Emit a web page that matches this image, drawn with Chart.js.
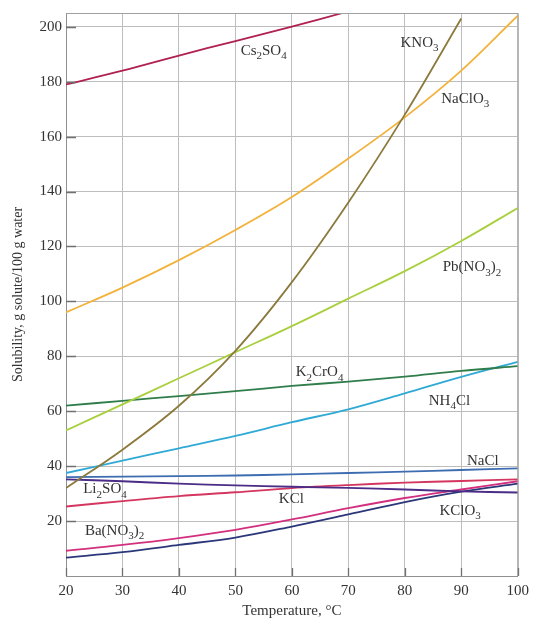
<!DOCTYPE html>
<html>
<head>
<meta charset="utf-8">
<script src="https://cdn.jsdelivr.net/npm/chart.js@4"></script>
<style>
  html, body { margin: 0; background: #fff; }
</style>
</head>
<body>
<canvas id="chart" width="535" height="619"></canvas>
<script>
const temps = [20, 30, 40, 50, 60, 70, 80, 90, 100];
const cs2so4Temps = [20, 30, 40, 50, 60, 69];
const kno3Temps = [20, 30, 40, 50, 60, 70, 80, 90];

const cs2so4 = [179, 184, 189.5, 194.8, 200, 205];
const kno3 = [32, 46, 62, 82, 107, 136, 168, 203];
const naclo3 = [96, 105, 115, 126, 138, 152, 167, 184, 204];
const pbno32 = [53, 62.5, 72, 81.5, 91, 101, 111, 122, 134];
const k2cro4 = [62, 63.8, 65.5, 67.3, 69.2, 70.8, 72.6, 74.7, 76.4];
const nh4cl = [37.5, 42, 46.5, 51, 56, 60.7, 66.5, 72.5, 78];
const nacl = [36, 36.2, 36.4, 36.6, 37, 37.5, 38, 38.6, 39.2];
const li2so4 = [35.2, 34.5, 33.6, 33, 32.5, 32.1, 31.5, 30.8, 30.4];
const kcl = [25.3, 27.3, 29.1, 30.5, 32, 33.1, 34, 34.6, 35.2];
const bano32 = [9.2, 11.3, 13.8, 16.8, 20.6, 24.7, 28.4, 31.5, 34.5];
const kclo3 = [6.7, 8.7, 11.3, 14, 18, 22.4, 26.9, 30.7, 33.6];

const yTickValues = [20, 40, 60, 80, 100, 120, 140, 160, 180, 200];

// curve labels, "_3" means subscript 3; placed at (temperature, solubility)
const labelTexts = ["Cs_2SO_4", "KNO_3", "NaClO_3", "Pb(NO_3)_2", "K_2CrO_4", "NH_4Cl", "NaCl", "Li_2SO_4", "KCl", "KClO_3", "Ba(NO_3)_2"];
const labelTemps = [55, 82.6, 90.7, 91.9, 64.9, 87.9, 93.8, 26.9, 59.9, 89.8, 28.6];
const labelValues = [191.6, 194.5, 174, 112.7, 74.5, 64, 42.3, 31.9, 28.4, 24, 16.9];

const FONT = '"Liberation Serif", "Times New Roman", serif';

const toPoints = (xs, ys) => xs.map((x, i) => ({ x: x, y: ys[i] }));

const series = [
  { data: toPoints(cs2so4Temps, cs2so4), color: "#b02050" },
  { data: toPoints(kno3Temps, kno3), color: "#8c7a3c" },
  { data: toPoints(temps, naclo3), color: "#f2b23c" },
  { data: toPoints(temps, pbno32), color: "#a8cf3c" },
  { data: toPoints(temps, k2cro4), color: "#2f7d4a" },
  { data: toPoints(temps, nh4cl), color: "#2fa9d6" },
  { data: toPoints(temps, nacl), color: "#3d6db0" },
  { data: toPoints(temps, li2so4), color: "#4b2c86" },
  { data: toPoints(temps, kcl), color: "#d4365f" },
  { data: toPoints(temps, bano32), color: "#d2307f" },
  { data: toPoints(temps, kclo3), color: "#2b3779" },
];

const drawFormula = (ctx, text, cx, cy, size) => {
  const parts = text
    .split(/(_\d)/)
    .filter((p) => p)
    .map((p) => (p[0] === "_" ? { t: p.slice(1), sub: true } : { t: p, sub: false }));
  const big = `${size}px ${FONT}`;
  const small = `${Math.round(size * 0.72)}px ${FONT}`;
  let width = 0;
  parts.forEach((p) => {
    ctx.font = p.sub ? small : big;
    p.w = ctx.measureText(p.t).width;
    width += p.w;
  });
  let x = cx - width / 2;
  ctx.textBaseline = "alphabetic";
  ctx.textAlign = "left";
  parts.forEach((p) => {
    ctx.font = p.sub ? small : big;
    ctx.fillText(p.t, x, cy + size * 0.33 + (p.sub ? size * 0.28 : 0));
    x += p.w;
  });
};

const extrasPlugin = {
  id: "extras",
  afterDatasetsDraw(chart) {
    const { ctx, chartArea, scales } = chart;
    ctx.save();
    // frame on top and right
    ctx.strokeStyle = "#a0a0a0";
    ctx.lineWidth = 1;
    ctx.beginPath();
    ctx.moveTo(chartArea.left, chartArea.top + 0.5);
    ctx.lineTo(chartArea.right + 0.5, chartArea.top + 0.5);
    ctx.lineTo(chartArea.right + 0.5, chartArea.bottom);
    ctx.stroke();

    // short inner tick marks
    ctx.strokeStyle = "#707070";
    ctx.lineWidth = 1.3;
    ctx.beginPath();
    yTickValues.forEach((v) => {
      const y = Math.round(scales.y.getPixelForValue(v)) + 0.5;
      ctx.moveTo(chartArea.left, y);
      ctx.lineTo(chartArea.left + 10, y);
    });
    temps.forEach((v) => {
      const x = Math.round(scales.x.getPixelForValue(v)) + 0.5;
      ctx.moveTo(x, chartArea.bottom);
      ctx.lineTo(x, chartArea.bottom - 8);
    });
    ctx.stroke();

    ctx.fillStyle = "#333";
    labelTexts.forEach((t, i) => {
      drawFormula(
        ctx,
        t,
        scales.x.getPixelForValue(labelTemps[i]),
        scales.y.getPixelForValue(labelValues[i]),
        15
      );
    });
    ctx.restore();
  },
};

new Chart(document.getElementById("chart"), {
  type: "line",
  data: {
    datasets: series.map((s) => ({
      data: s.data,
      borderColor: s.color,
      borderWidth: 1.8,
      pointRadius: 0,
      fill: false,
      tension: 0.35,
    })),
  },
  options: {
    responsive: false,
    animation: false,
    layout: {
      padding: { left: 0, right: 14, top: 13, bottom: 0 },
    },
    plugins: {
      legend: { display: false },
      tooltip: { enabled: false },
    },
    scales: {
      x: {
        type: "linear",
        min: 20,
        max: 100,
        afterBuildTicks: (scale) => {
          scale.ticks = temps.map((v) => ({ value: v }));
        },
        afterFit: (scale) => {
          scale.height = 43;
        },
        grid: { color: "#bdbdbd", lineWidth: 1, drawTicks: false },
        border: { color: "#909090", width: 1 },
        ticks: {
          color: "#333",
          padding: 6,
          maxRotation: 0,
          font: { family: FONT, size: 15 },
        },
        title: {
          display: true,
          text: "Temperature, °C",
          color: "#333",
          padding: { top: 0, bottom: 0 },
          font: { family: FONT, size: 15, lineHeight: 1 },
        },
      },
      y: {
        type: "linear",
        min: 0,
        max: 205,
        afterBuildTicks: (scale) => {
          scale.ticks = yTickValues.map((v) => ({ value: v }));
        },
        afterFit: (scale) => {
          scale.width = 66;
        },
        grid: { color: "#bdbdbd", lineWidth: 1, drawTicks: false },
        border: { color: "#909090", width: 1 },
        ticks: {
          color: "#333",
          padding: 4,
          font: { family: FONT, size: 15 },
        },
        title: {
          display: true,
          text: "Solubility, g solute/100 g water",
          color: "#333",
          padding: { top: 11, bottom: 0 },
          font: { family: FONT, size: 14, lineHeight: 1 },
        },
      },
    },
  },
  plugins: [extrasPlugin],
});
</script>
</body>
</html>
